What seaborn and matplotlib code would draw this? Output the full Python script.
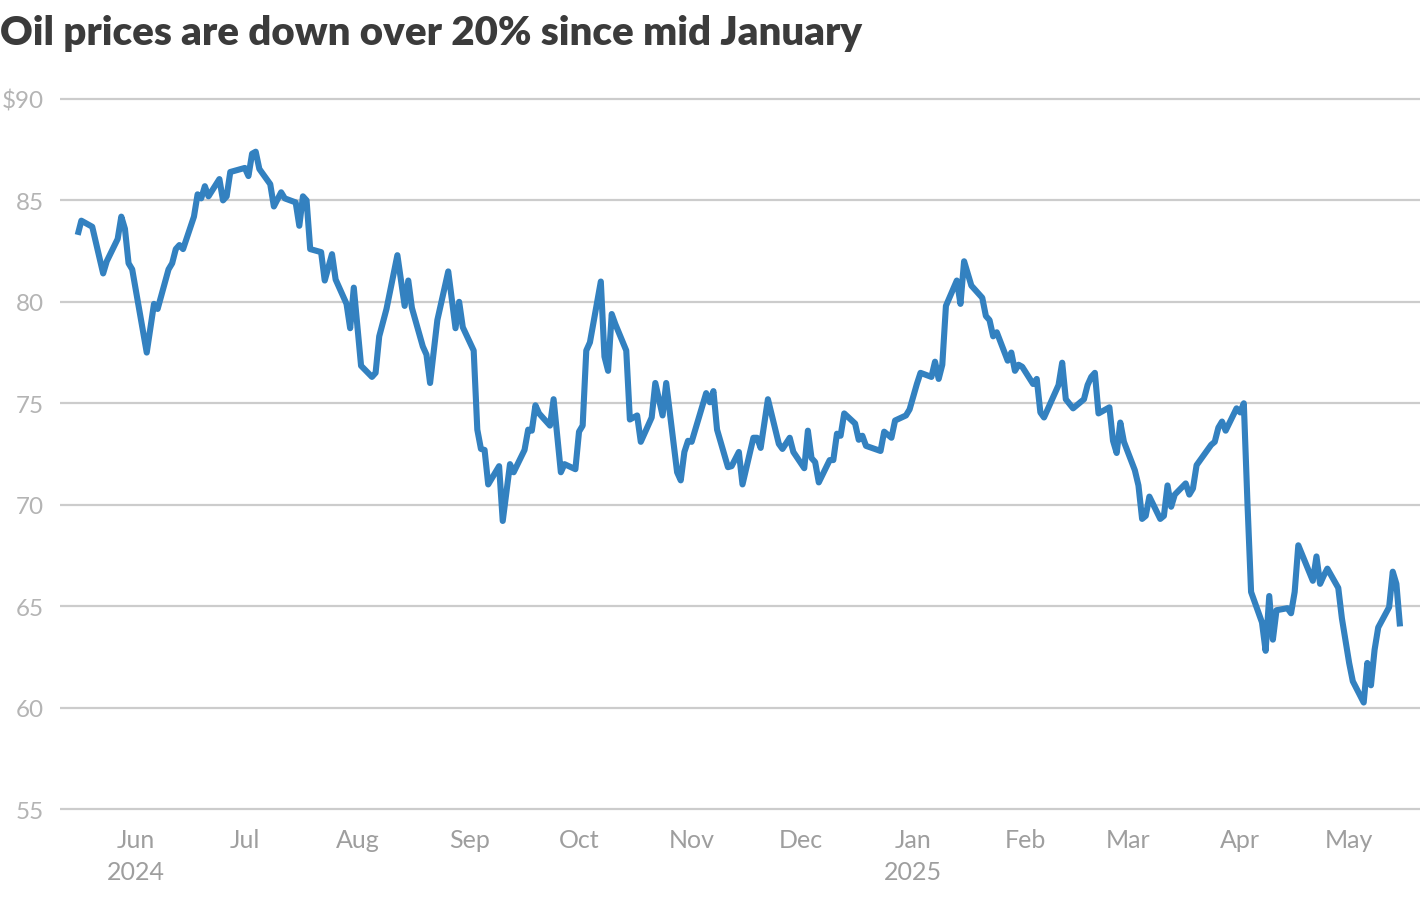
import pandas as pd
import matplotlib
matplotlib.use("Agg")
import matplotlib.pyplot as plt
import seaborn as sns

# Brent price (trading days, USD/bbl)
dates = [
    "2024-05-16", "2024-05-17", "2024-05-20", "2024-05-23", "2024-05-24", "2024-05-27",
    "2024-05-28", "2024-05-29", "2024-05-30", "2024-05-31",
    "2024-06-04", "2024-06-06", "2024-06-07", "2024-06-10", "2024-06-11", "2024-06-12",
    "2024-06-13", "2024-06-14", "2024-06-17", "2024-06-18", "2024-06-19", "2024-06-20",
    "2024-06-21", "2024-06-24", "2024-06-25", "2024-06-26", "2024-06-27",
    "2024-07-01", "2024-07-02", "2024-07-03", "2024-07-04", "2024-07-05", "2024-07-08",
    "2024-07-09", "2024-07-11", "2024-07-12", "2024-07-15", "2024-07-16", "2024-07-17",
    "2024-07-18", "2024-07-19", "2024-07-22", "2024-07-23", "2024-07-25", "2024-07-26",
    "2024-07-29", "2024-07-30", "2024-07-31",
    "2024-08-02", "2024-08-05", "2024-08-06", "2024-08-07", "2024-08-09", "2024-08-12",
    "2024-08-14", "2024-08-15", "2024-08-16", "2024-08-19", "2024-08-20", "2024-08-21",
    "2024-08-23", "2024-08-26", "2024-08-28", "2024-08-29", "2024-08-30",
    "2024-09-02", "2024-09-03", "2024-09-04", "2024-09-05", "2024-09-06", "2024-09-09",
    "2024-09-10", "2024-09-12", "2024-09-13", "2024-09-16", "2024-09-17", "2024-09-18",
    "2024-09-19", "2024-09-20", "2024-09-23", "2024-09-24", "2024-09-26", "2024-09-27",
    "2024-09-30",
    "2024-10-01", "2024-10-02", "2024-10-03", "2024-10-04", "2024-10-07", "2024-10-08",
    "2024-10-09", "2024-10-10", "2024-10-11", "2024-10-14", "2024-10-15", "2024-10-16",
    "2024-10-17", "2024-10-18", "2024-10-21", "2024-10-22", "2024-10-24", "2024-10-25",
    "2024-10-28", "2024-10-29", "2024-10-30", "2024-10-31",
    "2024-11-01", "2024-11-05", "2024-11-06", "2024-11-07", "2024-11-08", "2024-11-11",
    "2024-11-12", "2024-11-14", "2024-11-15", "2024-11-18", "2024-11-19", "2024-11-20",
    "2024-11-22", "2024-11-25", "2024-11-26", "2024-11-28", "2024-11-29",
    "2024-12-02", "2024-12-03", "2024-12-04", "2024-12-05", "2024-12-06", "2024-12-09",
    "2024-12-10", "2024-12-11", "2024-12-12", "2024-12-13", "2024-12-16", "2024-12-17",
    "2024-12-18", "2024-12-19", "2024-12-23", "2024-12-24", "2024-12-26", "2024-12-27",
    "2024-12-30", "2024-12-31",
    "2025-01-02", "2025-01-03", "2025-01-06", "2025-01-07", "2025-01-08", "2025-01-09",
    "2025-01-10", "2025-01-13", "2025-01-14", "2025-01-15", "2025-01-16", "2025-01-17",
    "2025-01-20", "2025-01-21", "2025-01-22", "2025-01-23", "2025-01-24", "2025-01-27",
    "2025-01-28", "2025-01-29", "2025-01-30", "2025-01-31",
    "2025-02-03", "2025-02-04", "2025-02-05", "2025-02-06", "2025-02-07", "2025-02-10",
    "2025-02-11", "2025-02-12", "2025-02-14", "2025-02-17", "2025-02-18", "2025-02-19",
    "2025-02-20", "2025-02-21", "2025-02-24", "2025-02-25", "2025-02-26", "2025-02-27",
    "2025-02-28",
    "2025-03-03", "2025-03-04", "2025-03-05", "2025-03-06", "2025-03-07", "2025-03-10",
    "2025-03-11", "2025-03-12", "2025-03-13", "2025-03-14", "2025-03-17", "2025-03-18",
    "2025-03-19", "2025-03-20", "2025-03-21", "2025-03-24", "2025-03-25", "2025-03-26",
    "2025-03-27", "2025-03-28", "2025-03-31",
    "2025-04-01", "2025-04-02", "2025-04-03", "2025-04-04", "2025-04-07", "2025-04-08",
    "2025-04-09", "2025-04-10", "2025-04-11", "2025-04-14", "2025-04-15", "2025-04-16",
    "2025-04-17", "2025-04-21", "2025-04-22", "2025-04-23", "2025-04-24", "2025-04-25",
    "2025-04-28", "2025-04-29", "2025-04-30",
    "2025-05-01", "2025-05-02", "2025-05-05", "2025-05-06", "2025-05-07", "2025-05-08",
    "2025-05-09", "2025-05-12", "2025-05-13", "2025-05-14", "2025-05-15",
]

prices = [
    83.3, 84.0, 83.7, 81.4, 82.0, 83.1,
    84.2, 83.6, 81.9, 81.6,
    77.5, 79.9, 79.65, 81.6, 81.9, 82.6,
    82.8, 82.6, 84.2, 85.3, 85.1, 85.7,
    85.2, 86.05, 85.0, 85.2, 86.4,
    86.6, 86.2, 87.3, 87.4, 86.55, 85.8,
    84.7, 85.4, 85.1, 84.9, 83.75, 85.2,
    85.0, 82.6, 82.45, 81.05, 82.35, 81.1,
    79.9, 78.7, 80.7,
    76.85, 76.3, 76.5, 78.3, 79.65, 82.3,
    79.8, 81.05, 79.7, 77.8, 77.4, 76.0,
    79.1, 81.5, 78.7, 80.0, 78.75,
    77.6, 73.7, 72.75, 72.7, 71.0, 71.9,
    69.2, 72.0, 71.6, 72.7, 73.7, 73.65,
    74.9, 74.5, 73.9, 75.2, 71.6, 72.0,
    71.75,
    73.6, 73.9, 77.6, 78.0, 81.0, 77.3,
    76.6, 79.4, 78.9, 77.6, 74.2, 74.3,
    74.4, 73.1, 74.3, 76.0, 74.4, 76.0,
    71.6, 71.2, 72.6, 73.15,
    73.1, 75.5, 75.05, 75.6, 73.7, 71.85,
    71.9, 72.6, 71.0, 73.3, 73.3, 72.8,
    75.2, 73.0, 72.75, 73.3, 72.6,
    71.8, 73.65, 72.3, 72.1, 71.1, 72.2,
    72.2, 73.5, 73.4, 74.5, 74.0, 73.2,
    73.4, 72.9, 72.65, 73.6, 73.3, 74.15,
    74.4, 74.7,
    75.95, 76.5, 76.3, 77.05, 76.2, 76.9,
    79.8, 81.05, 79.9, 82.0, 81.4, 80.8,
    80.2, 79.3, 79.1, 78.3, 78.5, 77.1,
    77.5, 76.6, 76.9, 76.8,
    75.95, 76.2, 74.55, 74.3, 74.7, 75.9,
    77.0, 75.2, 74.75, 75.2, 75.9, 76.3,
    76.5, 74.5, 74.8, 73.15, 72.55, 74.05,
    73.1,
    71.7, 70.95, 69.3, 69.45, 70.4, 69.3,
    69.45, 70.95, 69.9, 70.5, 71.05, 70.5,
    70.8, 71.95, 72.2, 72.95, 73.1, 73.8,
    74.1, 73.65, 74.75,
    74.55, 75.0, 70.1, 65.7, 64.2, 62.8,
    65.5, 63.35, 64.8, 64.9, 64.65, 65.7,
    68.0, 66.25, 67.45, 66.1, 66.5, 66.85,
    65.9, 64.4, 63.3,
    62.2, 61.3, 60.25, 62.2, 61.1, 62.85,
    63.95, 64.95, 66.7, 66.1, 64.0,
]

y_ticks = [55, 60, 65, 70, 75, 80, 85, 90]
y_labels = ["55", "60", "65", "70", "75", "80", "85", "$90"]
month_ticks = ["2024-06-01", "2024-07-01", "2024-08-01", "2024-09-01", "2024-10-01",
               "2024-11-01", "2024-12-01", "2025-01-01", "2025-02-01", "2025-03-01",
               "2025-04-01", "2025-05-01"]
month_labels = ["Jun\n2024", "Jul", "Aug", "Sep", "Oct", "Nov", "Dec", "Jan\n2025",
                "Feb", "Mar", "Apr", "May"]

df = pd.DataFrame({"date": pd.to_datetime(dates), "price": prices})

sns.set_theme(style="white")
plt.rcParams["font.family"] = ["Lato", "DejaVu Sans"]

fig = plt.figure(figsize=(14.2, 9.2), dpi=100)
ax = fig.add_axes([60 / 1420, (920 - 814.1) / 920, 1360 / 1420, 718.2 / 920])

sns.lineplot(data=df, x="date", y="price", ax=ax, color="#3381c0",
             linewidth=4.4, solid_joinstyle="round", solid_capstyle="butt", zorder=3)

ax.set_xlim(pd.Timestamp("2024-05-11 03:00"), pd.Timestamp("2025-05-20 12:00"))
ax.set_ylim(54.8, 90.2)

for v in y_ticks:
    ax.axhline(v, color="#cccccc", linewidth=1.6, zorder=1)

ax.set_yticks(y_ticks)
ax.set_yticklabels(y_labels)
ax.set_xticks(pd.to_datetime(month_ticks))
ax.set_xticklabels(month_labels, linespacing=1.45)
ax.tick_params(axis="y", length=0, pad=11.5, labelsize=17.5, labelcolor="#b4b4b4")
ax.tick_params(axis="x", length=0, pad=11, labelsize=18, labelcolor="#9e9e9e")
for lbl in ax.get_xticklabels():
    lbl.set_verticalalignment("top")

ax.set_xlabel("")
ax.set_ylabel("")
for s in ax.spines.values():
    s.set_visible(False)

fig.text(0.0, 1 - 45 / 920, "Oil prices are down over 20% since mid January",
         fontsize=29, fontweight="heavy", color="#3b3b3b", va="baseline", ha="left")

fig.savefig("out.png", dpi=100, facecolor="white")
